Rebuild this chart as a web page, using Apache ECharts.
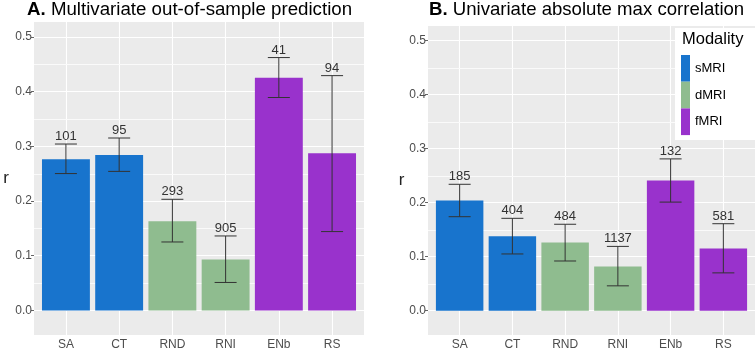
<!DOCTYPE html>
<html>
<head>
<meta charset="utf-8">
<script src="https://cdn.jsdelivr.net/npm/echarts@6/dist/echarts.min.js"></script>
<style>
  html, body { margin: 0; padding: 0; background: #fff; }
  #chart { width: 756px; height: 351px; }
</style>
</head>
<body>
<div id="chart"></div>
<script>
// categories and modality of each
const categories = ["SA", "CT", "RND", "RNI", "ENb", "RS"];
const modalities = ["sMRI", "dMRI", "fMRI"];
const modalityOf = [0, 0, 1, 1, 2, 2];
const modalityColors = ["#1874CD", "#8FBC8F", "#9932CC"];

// A. multivariate out-of-sample prediction
const multiR = [0.276, 0.284, 0.163, 0.093, 0.425, 0.287];
const multiLow = [0.250, 0.254, 0.125, 0.051, 0.389, 0.144];
const multiHigh = [0.304, 0.315, 0.203, 0.136, 0.462, 0.429];
const multiN = [101, 95, 293, 905, 41, 94];

// B. univariate absolute max correlation
const uniR = [0.204, 0.138, 0.126, 0.082, 0.241, 0.115];
const uniLow = [0.174, 0.105, 0.092, 0.046, 0.201, 0.070];
const uniHigh = [0.234, 0.171, 0.160, 0.119, 0.281, 0.161];
const uniN = [185, 404, 484, 1137, 132, 581];

// y ticks (major labelled, minor gridlines only)
const yMajor = [0, 0.1, 0.2, 0.3, 0.4, 0.5];
const yMinor = [0.05, 0.15, 0.25, 0.35, 0.45];
const xTicks = [0, 1, 2, 3, 4, 5];

const FONT = "Liberation Sans, Arial, sans-serif";

var myChart = echarts.init(document.getElementById("chart"));

function xAxisFor(gridIndex) {
  return {
    type: "value",
    gridIndex: gridIndex,
    min: -0.6,
    max: 5.6,
    axisLine: { show: false, onZero: false },
    axisTick: { show: false, customValues: xTicks },
    axisLabel: {
      margin: 4,
      fontSize: 12,
      color: "#4D4D4D",
      fontFamily: FONT,
      customValues: xTicks,
      formatter: function (v) {
        return categories[Math.round(v)] || "";
      },
    },
    splitLine: { show: true, lineStyle: { color: "#fff", width: 1.1 } },
  };
}

function yAxisFor(gridIndex, nameGap) {
  return {
    type: "value",
    gridIndex: gridIndex,
    min: -0.045,
    max: 0.527,
    name: "r",
    nameLocation: "middle",
    nameRotate: 0,
    nameGap: nameGap,
    nameTextStyle: { fontSize: 17, color: "#222", fontFamily: FONT },
    axisLine: { show: false, onZero: false },
    axisTick: { show: true, length: 3, lineStyle: { color: "#666" }, customValues: yMajor },
    axisLabel: {
      margin: 2,
      fontSize: 12,
      color: "#4D4D4D",
      fontFamily: FONT,
      customValues: yMajor,
      formatter: function (v) {
        return v.toFixed(1);
      },
    },
    splitLine: { show: true, lineStyle: { color: "#fff", width: 1.1 } },
  };
}

// minor horizontal gridlines, drawn through the y scale
function minorGridSeries(axisIndex) {
  return {
    type: "custom",
    xAxisIndex: axisIndex,
    yAxisIndex: axisIndex,
    z: 1,
    silent: true,
    clip: false,
    encode: { x: 0, y: 1 },
    data: yMinor.map(function (v) {
      return [0, v];
    }),
    renderItem: function (params, api) {
      const cs = params.coordSys;
      const y = Math.round(api.coord([0, api.value(1)])[1]) + 0.5;
      return {
        type: "line",
        z2: 1,
        shape: { x1: cs.x, y1: y, x2: cs.x + cs.width, y2: y },
        style: { stroke: "#FAFAFA", lineWidth: 1 },
      };
    },
  };
}

function barSeries(values, axisIndex) {
  return modalities.map(function (m, mi) {
    const data = [];
    values.forEach(function (v, i) {
      if (modalityOf[i] === mi) data.push([i, v]);
    });
    return {
      name: m,
      type: "bar",
      xAxisIndex: axisIndex,
      yAxisIndex: axisIndex,
      barWidth: "90%",
      barGap: "-100%",
      color: modalityColors[mi],
      data: data,
      z: 2,
    };
  });
}

function errorSeries(low, high, n, axisIndex) {
  return {
    type: "custom",
    xAxisIndex: axisIndex,
    yAxisIndex: axisIndex,
    z: 5,
    silent: true,
    encode: { x: 0, y: [1, 2] },
    data: low.map(function (l, i) {
      return [i, l, high[i], n[i]];
    }),
    renderItem: function (params, api) {
      const x = api.value(0);
      const lo = api.coord([x, api.value(1)]);
      const hi = api.coord([x, api.value(2)]);
      const half = 11;
      const ls = { stroke: "#333", lineWidth: 1 };
      return {
        type: "group",
        children: [
          { type: "line", shape: { x1: hi[0], y1: hi[1], x2: lo[0], y2: lo[1] }, style: ls },
          { type: "line", shape: { x1: hi[0] - half, y1: hi[1], x2: hi[0] + half, y2: hi[1] }, style: ls },
          { type: "line", shape: { x1: lo[0] - half, y1: lo[1], x2: lo[0] + half, y2: lo[1] }, style: ls },
          {
            type: "text",
            style: {
              text: String(api.value(3)),
              x: hi[0],
              y: hi[1] - 1,
              align: "center",
              verticalAlign: "bottom",
              fill: "#333",
              font: "13px " + FONT,
            },
          },
        ],
      };
    },
  };
}

var option = {
  animation: false,
  title: [
    {
      text: "{b|A.} Multivariate out-of-sample prediction",
      left: 27,
      top: 0,
      padding: 0,
      textStyle: {
        fontSize: 18.7,
        fontWeight: "normal",
        color: "#000",
        fontFamily: FONT,
        rich: { b: { fontSize: 18.7, fontWeight: "bold", fontFamily: FONT, color: "#000" } },
      },
    },
    {
      text: "{b|B.} Univariate absolute max correlation",
      left: 429,
      top: 0,
      padding: 0,
      textStyle: {
        fontSize: 18.6,
        fontWeight: "normal",
        color: "#000",
        fontFamily: FONT,
        rich: { b: { fontSize: 18.6, fontWeight: "bold", fontFamily: FONT, color: "#000" } },
      },
    },
    {
      text: "Modality",
      left: 682,
      top: 31,
      padding: 0,
      textStyle: { fontSize: 16.5, fontWeight: "normal", color: "#000", fontFamily: FONT },
      z: 10,
    },
  ],
  legend: {
    left: 675,
    top: 28,
    orient: "vertical",
    padding: [27, 30, 5, 6],
    backgroundColor: "#fff",
    itemWidth: 9,
    itemHeight: 26.7,
    itemGap: 0,
    icon: "rect",
    textStyle: { fontSize: 13, color: "#000", fontFamily: FONT },
    data: modalities,
  },
  grid: [
    { left: 34, right: 392, top: 22, bottom: 13, show: true, backgroundColor: "#EBEBEB", borderWidth: 0 },
    { left: 428, right: 1, top: 26, bottom: 11, show: true, backgroundColor: "#EBEBEB", borderWidth: 0 },
  ],
  xAxis: [xAxisFor(0), xAxisFor(1)],
  yAxis: [yAxisFor(0, 25), yAxisFor(1, 19)],
  series: [minorGridSeries(0), minorGridSeries(1)]
    .concat(barSeries(multiR, 0))
    .concat(barSeries(uniR, 1))
    .concat([errorSeries(multiLow, multiHigh, multiN, 0), errorSeries(uniLow, uniHigh, uniN, 1)]),
};

myChart.setOption(option);
</script>
</body>
</html>
